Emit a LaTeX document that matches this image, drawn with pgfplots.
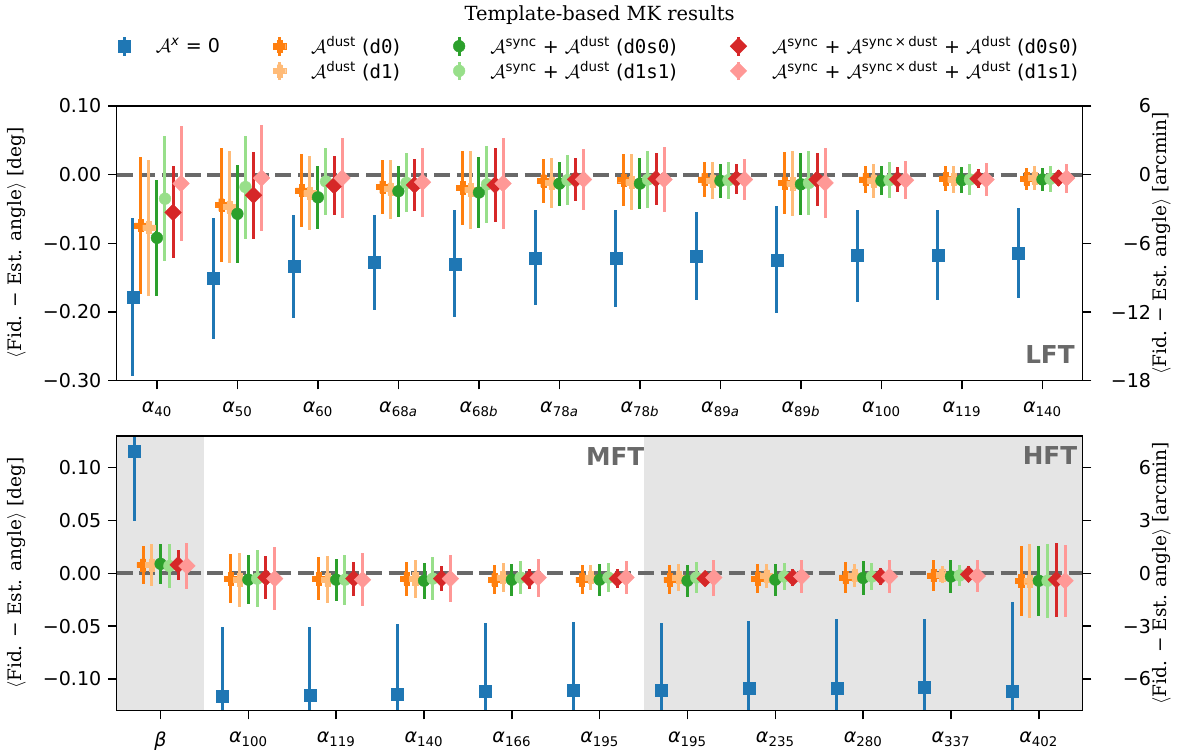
\RequirePackage{fix-cm}
\documentclass[border=0pt]{standalone}
\usepackage{fontspec}
\setmainfont{DejaVu Sans}
\setmonofont{DejaVu Sans Mono}
\newfontfamily\serif{DejaVu Serif}
\usepackage{pgfplots}
\usepackage{pgfplotstable}
\pgfplotsset{compat=1.18}

\definecolor{cB}{HTML}{1F77B4}
\definecolor{cO}{HTML}{FF7F0E}
\definecolor{cLO}{HTML}{FFBB78}
\definecolor{cG}{HTML}{2CA02C}
\definecolor{cLG}{HTML}{98DF8A}
\definecolor{cR}{HTML}{D62728}
\definecolor{cP}{HTML}{FF9896}
\definecolor{dimgray}{HTML}{696969}

\pgfdeclareplotmark{pfill}{%
  \pgfpathmoveto{\pgfqpoint{-0.42\pgfplotmarksize}{\pgfplotmarksize}}%
  \pgfpathlineto{\pgfqpoint{0.42\pgfplotmarksize}{\pgfplotmarksize}}%
  \pgfpathlineto{\pgfqpoint{0.42\pgfplotmarksize}{0.42\pgfplotmarksize}}%
  \pgfpathlineto{\pgfqpoint{\pgfplotmarksize}{0.42\pgfplotmarksize}}%
  \pgfpathlineto{\pgfqpoint{\pgfplotmarksize}{-0.42\pgfplotmarksize}}%
  \pgfpathlineto{\pgfqpoint{0.42\pgfplotmarksize}{-0.42\pgfplotmarksize}}%
  \pgfpathlineto{\pgfqpoint{0.42\pgfplotmarksize}{-\pgfplotmarksize}}%
  \pgfpathlineto{\pgfqpoint{-0.42\pgfplotmarksize}{-\pgfplotmarksize}}%
  \pgfpathlineto{\pgfqpoint{-0.42\pgfplotmarksize}{-0.42\pgfplotmarksize}}%
  \pgfpathlineto{\pgfqpoint{-\pgfplotmarksize}{-0.42\pgfplotmarksize}}%
  \pgfpathlineto{\pgfqpoint{-\pgfplotmarksize}{0.42\pgfplotmarksize}}%
  \pgfpathlineto{\pgfqpoint{-0.42\pgfplotmarksize}{0.42\pgfplotmarksize}}%
  \pgfpathclose\pgfusepathqfillstroke}

\pgfplotsset{
  ser/.style n args={4}{%
    only marks, color=#1, mark=#2, mark size=#3,
    mark options={solid, fill=#1, draw=#1, line width=0.3pt, rotate=#4},
    legend image code/.code={%
      \draw[line width=2.25pt, #1] (0pt,-7pt) -- (0pt,7pt);
      \draw[#1, only marks, mark=#2, mark size=#3, mark options={solid, fill=#1, draw=#1, line width=0.3pt, rotate=#4}] plot coordinates {(0pt,0pt)};},
    error bars/y dir=both, error bars/y explicit, error bars/error mark=none,
    error bars/error bar style={line width=2.25pt, color=#1, solid},
  },
  common/.style={scale only axis, width=724.5pt, height=206pt, xmin=-0.5,
    axis line style={line width=1.2pt},
    major tick style={line width=1.2pt, black},
    major tick length=6.5pt, tick align=outside,
    tick label style={font=\fontsize{14.3}{17}\selectfont},
    clip marker paths=false},
  leftax/.style={common, xtick pos=bottom, ytick pos=left, axis on top,
    xticklabel style={yshift=-6pt}, yticklabel style={xshift=-1.5pt}},
  rightax/.style={common, hide x axis, axis y line*=right,
    yticklabel style={anchor=east, inner sep=0pt, xshift=45pt}},
}

% columns: i, blue, orange(d0), lightorange(d1), green(d0s0), lightgreen(d1s1), red(d0s0), pink(d1s1)
\pgfplotstableread{
i  b      be     o      oe     lo     loe    g      ge     lg     lge    r      re     p      pe
0  -0.178 0.115  -0.074 0.0995 -0.077 0.099  -0.092 0.084  -0.035 0.091  -0.055 0.067  -0.013 0.084
1  -0.151 0.088  -0.044 0.083  -0.047 0.082  -0.057 0.071  -0.018 0.075  -0.030 0.063  -0.005 0.077
2  -0.134 0.075  -0.023 0.053  -0.027 0.054  -0.033 0.046  -0.010 0.049  -0.016 0.043  -0.005 0.058
3  -0.128 0.069  -0.018 0.039  -0.021 0.043  -0.024 0.037  -0.012 0.043  -0.015 0.038  -0.011 0.050
4  -0.130 0.078  -0.019 0.054  -0.022 0.057  -0.026 0.052  -0.014 0.056  -0.015 0.054  -0.013 0.066
5  -0.121 0.069  -0.009 0.032  -0.012 0.036  -0.013 0.032  -0.008 0.036  -0.007 0.031  -0.007 0.044
6  -0.122 0.071  -0.008 0.038  -0.011 0.041  -0.013 0.037  -0.007 0.041  -0.006 0.038  -0.007 0.048
7  -0.119 0.064  -0.007 0.025  -0.009 0.027  -0.009 0.025  -0.008 0.027  -0.006 0.022  -0.007 0.030
8  -0.124 0.078  -0.012 0.045  -0.013 0.047  -0.014 0.045  -0.012 0.047  -0.007 0.038  -0.012 0.051
9  -0.118 0.067  -0.007 0.020  -0.009 0.025  -0.009 0.021  -0.008 0.026  -0.007 0.018  -0.008 0.028
10 -0.117 0.066  -0.006 0.018  -0.007 0.020  -0.008 0.019  -0.007 0.022  -0.006 0.014  -0.007 0.024
11 -0.114 0.065  -0.006 0.016  -0.005 0.018  -0.007 0.017  -0.006 0.019  -0.005 0.012  -0.005 0.021
}\topdata

\pgfplotstableread{
i  b      be     o      oe     lo      loe    g      ge     lg     lge    r      re     p      pe
0  0.116  0.066  0.008  0.018  0.008   0.020  0.009  0.019  0.007  0.021  0.008  0.0145 0.007  0.022
1  -0.116 0.0655 -0.005 0.023  -0.006  0.0255 -0.006 0.023  -0.005 0.027  -0.004 0.020  -0.005 0.0295
2  -0.115 0.064  -0.005 0.020  -0.006  0.0225 -0.006 0.020  -0.006 0.0236 -0.005 0.016  -0.006 0.025
3  -0.114 0.066  -0.005 0.016  -0.005  0.018  -0.007 0.017  -0.005 0.020  -0.005 0.012  -0.005 0.022
4  -0.112 0.065  -0.006 0.014  -0.004  0.014  -0.006 0.015  -0.004 0.016  -0.005 0.0095 -0.004 0.018
5  -0.111 0.065  -0.006 0.0135 -0.004  0.012  -0.006 0.015  -0.004 0.0135 -0.005 0.009  -0.004 0.016
6  -0.111 0.064  -0.006 0.014  -0.004  0.013  -0.007 0.015  -0.004 0.015  -0.005 0.007  -0.004 0.017
7  -0.109 0.064  -0.005 0.014  -0.0025 0.011  -0.006 0.015  -0.003 0.013  -0.004 0.008  -0.003 0.016
8  -0.109 0.0655 -0.004 0.015  -0.002  0.011  -0.0044 0.0165 -0.003 0.013 -0.003 0.008  -0.003 0.016
9  -0.108 0.065  -0.002 0.0146 -0.0015 0.008  -0.003 0.016  -0.002 0.0096 -0.001 0.0076 -0.0025 0.015
10 -0.112 0.085  -0.007 0.033  -0.0074 0.035  -0.007 0.033  -0.007 0.035  -0.006 0.035  -0.007 0.034
}\botdata

\newcommand{\cA}{$\mathcal{A}$}

\begin{document}
\begin{tikzpicture}
\useasboundingbox (-87.5pt,-32.5pt) rectangle (800.5pt,533pt);

% ---------------- top panel ----------------
\begin{axis}[leftax, at={(0,247.5pt)}, xmax=11.5, ymin=-0.3, ymax=0.1,
  ytick={-0.3,-0.2,-0.1,0,0.1}, yticklabels={−0.30,−0.20,−0.10,0.00,0.10},
  xtick={0,...,11},
  xticklabels={{\textit{α}\textsubscript{40}},{\textit{α}\textsubscript{50}},{\textit{α}\textsubscript{60}},
    {\textit{α}\textsubscript{68\textit{a}}},{\textit{α}\textsubscript{68\textit{b}}},{\textit{α}\textsubscript{78\textit{a}}},
    {\textit{α}\textsubscript{78\textit{b}}},{\textit{α}\textsubscript{89\textit{a}}},{\textit{α}\textsubscript{89\textit{b}}},
    {\textit{α}\textsubscript{100}},{\textit{α}\textsubscript{119}},{\textit{α}\textsubscript{140}}},
  legend columns=4, legend cell align=left,
  legend style={draw=none, fill=none, at={(0.5,1)}, anchor=center, yshift=35.6pt,
    font=\fontsize{14.3}{16}\selectfont, row sep=2.25pt,
    nodes={inner ysep=0.5pt},
    /tikz/every odd column/.append style={column sep=17pt},
    /tikz/every even column/.append style={column sep=38pt}},
]
\draw[dimgray, line width=3pt, dash pattern=on 12pt off 5pt] (axis cs:-0.5,0) -- (axis cs:11.5,0);
\addplot[forget plot, ser={cB}{square*}{4.5pt}{0}] table[x expr=\thisrow{i}-0.3, y=b, y error=be]{\topdata};
\addplot[forget plot, ser={cO}{pfill}{4.6pt}{0}] table[x expr=\thisrow{i}-0.2, y=o, y error=oe]{\topdata};
\addplot[forget plot, ser={cLO}{pfill}{4.6pt}{0}] table[x expr=\thisrow{i}-0.1, y=lo, y error=loe]{\topdata};
\addplot[forget plot, ser={cG}{*}{4.4pt}{0}] table[x expr=\thisrow{i}, y=g, y error=ge]{\topdata};
\addplot[forget plot, ser={cLG}{*}{4.4pt}{0}] table[x expr=\thisrow{i}+0.1, y=lg, y error=lge]{\topdata};
\addplot[forget plot, ser={cR}{square*}{4.4pt}{45}] table[x expr=\thisrow{i}+0.2, y=r, y error=re]{\topdata};
\addplot[forget plot, ser={cP}{square*}{4.4pt}{45}] table[x expr=\thisrow{i}+0.3, y=p, y error=pe]{\topdata};

\addlegendimage{ser={cB}{square*}{4.5pt}{0}}
\addlegendentry{\cA\textsuperscript{\textit{x}} = 0}
\addlegendimage{ser={cO}{pfill}{4.6pt}{0}}
\addlegendentry{\cA\textsuperscript{dust} (\texttt{d0})}
\addlegendimage{ser={cG}{*}{4.4pt}{0}}
\addlegendentry{\cA\textsuperscript{sync} + \cA\textsuperscript{dust} (\texttt{d0s0})}
\addlegendimage{ser={cR}{square*}{4.4pt}{45}}
\addlegendentry{\cA\textsuperscript{sync} + \cA\textsuperscript{sync\,×\,dust} + \cA\textsuperscript{dust} (\texttt{d0s0})}
\addlegendimage{empty legend}
\addlegendentry{}
\addlegendimage{ser={cLO}{pfill}{4.6pt}{0}}
\addlegendentry{\cA\textsuperscript{dust} (\texttt{d1})}
\addlegendimage{ser={cLG}{*}{4.4pt}{0}}
\addlegendentry{\cA\textsuperscript{sync} + \cA\textsuperscript{dust} (\texttt{d1s1})}
\addlegendimage{ser={cP}{square*}{4.4pt}{45}}
\addlegendentry{\cA\textsuperscript{sync} + \cA\textsuperscript{sync\,×\,dust} + \cA\textsuperscript{dust} (\texttt{d1s1})}

\node[anchor=base east, inner sep=0pt, text=dimgray, font=\bfseries\fontsize{18.5}{20}\selectfont]
  at ([xshift=-5.8pt, yshift=13pt]rel axis cs:1,0) {LFT};
\end{axis}
\begin{axis}[rightax, at={(0,247.5pt)}, xmax=11.5, ymin=-18, ymax=6,
  ytick={-18,-12,-6,0,6}, yticklabels={−18,−12,−6,0,6}]
\addplot[draw=none] coordinates {(0,0)};
\end{axis}

% ---------------- bottom panel ----------------
\begin{axis}[leftax, at={(0,0)}, xmax=10.5, ymin=-0.13, ymax=0.13,
  ytick={-0.1,-0.05,0,0.05,0.1}, yticklabels={−0.10,−0.05,0.00,0.05,0.10},
  xtick={0,...,10},
  xticklabels={{\textit{β}},{\textit{α}\textsubscript{100}},{\textit{α}\textsubscript{119}},{\textit{α}\textsubscript{140}},
    {\textit{α}\textsubscript{166}},{\textit{α}\textsubscript{195}},{\textit{α}\textsubscript{195}},{\textit{α}\textsubscript{235}},
    {\textit{α}\textsubscript{280}},{\textit{α}\textsubscript{337}},{\textit{α}\textsubscript{402}}},
]
\fill[black!10] (axis cs:-0.5,-0.13) rectangle (axis cs:0.5,0.13);
\fill[black!10] (axis cs:5.5,-0.13) rectangle (axis cs:10.5,0.13);
\draw[dimgray, line width=3pt, dash pattern=on 12pt off 5pt] (axis cs:-0.5,0) -- (axis cs:10.5,0);
\addplot[forget plot, ser={cB}{square*}{4.5pt}{0}] table[x expr=\thisrow{i}-0.3, y=b, y error=be]{\botdata};
\addplot[forget plot, ser={cO}{pfill}{4.6pt}{0}] table[x expr=\thisrow{i}-0.2, y=o, y error=oe]{\botdata};
\addplot[forget plot, ser={cLO}{pfill}{4.6pt}{0}] table[x expr=\thisrow{i}-0.1, y=lo, y error=loe]{\botdata};
\addplot[forget plot, ser={cG}{*}{4.4pt}{0}] table[x expr=\thisrow{i}, y=g, y error=ge]{\botdata};
\addplot[forget plot, ser={cLG}{*}{4.4pt}{0}] table[x expr=\thisrow{i}+0.1, y=lg, y error=lge]{\botdata};
\addplot[forget plot, ser={cR}{square*}{4.4pt}{45}] table[x expr=\thisrow{i}+0.2, y=r, y error=re]{\botdata};
\addplot[forget plot, ser={cP}{square*}{4.4pt}{45}] table[x expr=\thisrow{i}+0.3, y=p, y error=pe]{\botdata};
\node[anchor=base east, inner sep=0pt, text=dimgray, font=\bfseries\fontsize{18.5}{20}\selectfont]
  at ([xshift=0.7pt, yshift=-21.75pt]axis cs:5.5,0.13) {MFT};
\node[anchor=base east, inner sep=0pt, text=dimgray, font=\bfseries\fontsize{18.5}{20}\selectfont]
  at ([xshift=-4pt, yshift=-21.2pt]rel axis cs:1,1) {HFT};
\end{axis}
\begin{axis}[rightax, at={(0,0)}, xmax=10.5, ymin=-7.8, ymax=7.8,
  ytick={-6,-3,0,3,6}, yticklabels={−6,−3,0,3,6}]
\addplot[draw=none] coordinates {(0,0)};
\end{axis}

% titles and axis labels
\node[font=\serif\fontsize{14.6}{17}\selectfont] at (362.25pt,521.5pt) {Template-based MK results};
\node[rotate=90, font=\serif\fontsize{13.9}{16}\selectfont] at (-75.2pt,350.5pt) {$\langle$Fid. − Est. angle$\rangle$ [deg]};
\node[rotate=90, font=\serif\fontsize{13.9}{16}\selectfont] at (-75.2pt,103pt) {$\langle$Fid. − Est. angle$\rangle$ [deg]};
\node[rotate=90, font=\serif\fontsize{13.9}{16}\selectfont] at (783.6pt,350.5pt) {$\langle$Fid. − Est. angle$\rangle$ [arcmin]};
\node[rotate=90, font=\serif\fontsize{13.9}{16}\selectfont] at (783.6pt,103pt) {$\langle$Fid. − Est. angle$\rangle$ [arcmin]};
\end{tikzpicture}
\end{document}
